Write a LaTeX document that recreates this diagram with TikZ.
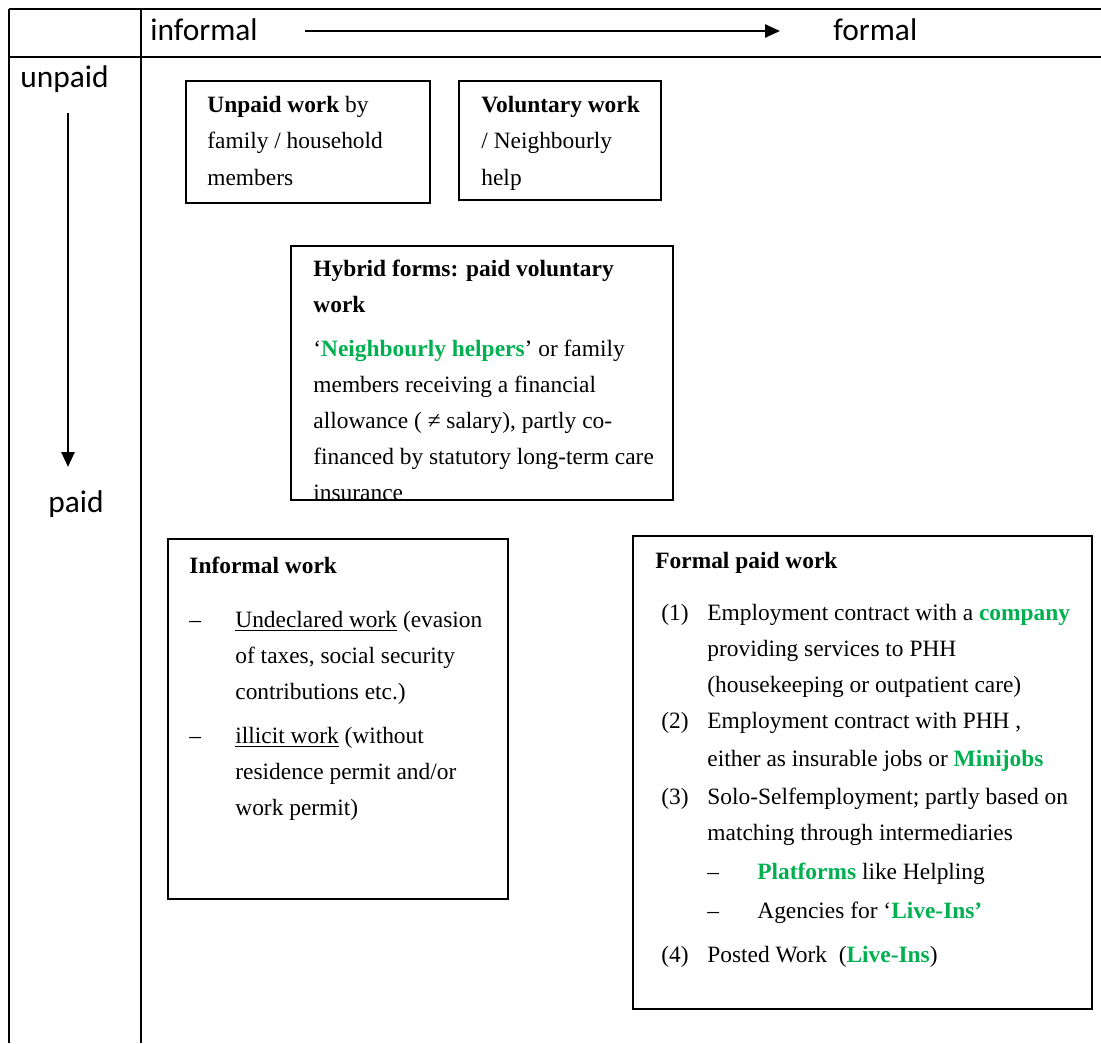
\documentclass[tikz,border=0pt]{standalone}
\usepackage{fontspec}
\setmainfont{Liberation Serif}
\newfontfamily\calib{Carlito}
\usetikzlibrary{arrows.meta}
\definecolor{wgreen}{RGB}{0,176,80}
\newcommand{\grn}[1]{\textcolor{wgreen}{\textbf{#1}}}
\tikzset{
  tableline/.style={line width=1.2pt},
  axis/.style={line width=1.2pt, -{Triangle[length=7.5pt, width=6.5pt]}},
  workbox/.style={line width=0.9pt},
  celltxt/.style={font=\calib\fontsize{15.7}{19}\selectfont, anchor=base west, inner sep=0pt},
  % multi-line nodes: anchored at the baseline of the last line
  boxtxt/.style={font=\fontsize{11.7}{18}\selectfont, align=left, anchor=base west, inner sep=0pt}
}
\begin{document}
\begin{tikzpicture}[x=0.5pt, y=-0.5pt]
    \useasboundingbox (0,0) rectangle (1101,1043);
    % table
    \draw [tableline] (9,9) -- (1101,9);
    \draw [tableline] (9,57) -- (1101,57);
    \draw [tableline] (9,9) -- (9,1043);
    \draw [tableline] (141,9) -- (141,1043);
    % axes
    \node [celltxt] (informal) at (150,41) {informal};
    \node [celltxt] (formal) at (833,41) {formal};
    \coordinate (hstart) at (305,31);
    \coordinate (hend) at (780,31);
    \draw [axis] (hstart) -- (hend);
    \node [celltxt] (unpaid) at (20,88) {unpaid};
    \node [celltxt] (paid) at (48,512) {paid};
    \coordinate (vstart) at (68,113);
    \coordinate (vend) at (68,467);
    \draw [axis] (vstart) -- (vend);
    % unpaid boxes
    \draw [workbox] (186,81) rectangle (430,203);
    \node [boxtxt] (family) at (207,185) {\textbf{Unpaid work} by\\ family / household\\ members};
    \draw [workbox] (459,81) rectangle (661,200);
    \node [boxtxt] (voluntary) at (481,185) {\textbf{Voluntary work}\\ / Neighbourly\\ help};
    % hybrid
    \node [boxtxt] (hybrid) at (313,500) {\textbf{Hybrid forms: paid voluntary}\\
        \textbf{work}\\[4pt]
        `\grn{Neighbourly helpers}' or family\\
        members receiving a financial\\
        allowance ( ≠ salary), partly co-\\
        financed by statutory long-term care\\
        insurance};
    \draw [workbox] (291,246) rectangle (673,500);
    % informal paid
    \draw [workbox] (168,539) rectangle (508,899);
    \node [boxtxt] (informalwork) at (189,815) {\textbf{Informal work}\\[9pt]
        \makebox[23pt][l]{--}\underline{Undeclared work} (evasion\\
        \hspace*{23pt}of taxes, social security\\
        \hspace*{23pt}contributions etc.)\\[4pt]
        \makebox[23pt][l]{--}\underline{illicit work} (without\\
        \hspace*{23pt}residence permit and/or\\
        \hspace*{23pt}work permit)};
    % formal paid
    \draw [workbox] (633,536) rectangle (1092,1009);
    \node [boxtxt] (formalwork) at (655,962) {\textbf{Formal paid work}\\[8pt]
        \hspace*{3pt}\makebox[23pt][l]{(1)}Employment contract with a \grn{company}\\
        \hspace*{26pt}providing services to PHH\\
        \hspace*{26pt}(housekeeping or outpatient care)\\
        \hspace*{3pt}\makebox[23pt][l]{(2)}Employment contract with PHH ,\\[1pt]
        \hspace*{26pt}either as insurable jobs or \grn{Minijobs}\\[1pt]
        \hspace*{3pt}\makebox[23pt][l]{(3)}Solo-Selfemployment; partly based on\\
        \hspace*{26pt}matching through intermediaries\\[1.5pt]
        \hspace*{26pt}\makebox[25pt][l]{--}\grn{Platforms} like Helpling\\[1.5pt]
        \hspace*{26pt}\makebox[25pt][l]{--}Agencies for `\grn{Live-Ins'}\\[4pt]
        \hspace*{3pt}\makebox[23pt][l]{(4)}Posted Work\ \ (\grn{Live-Ins})};
\end{tikzpicture}
\end{document}
